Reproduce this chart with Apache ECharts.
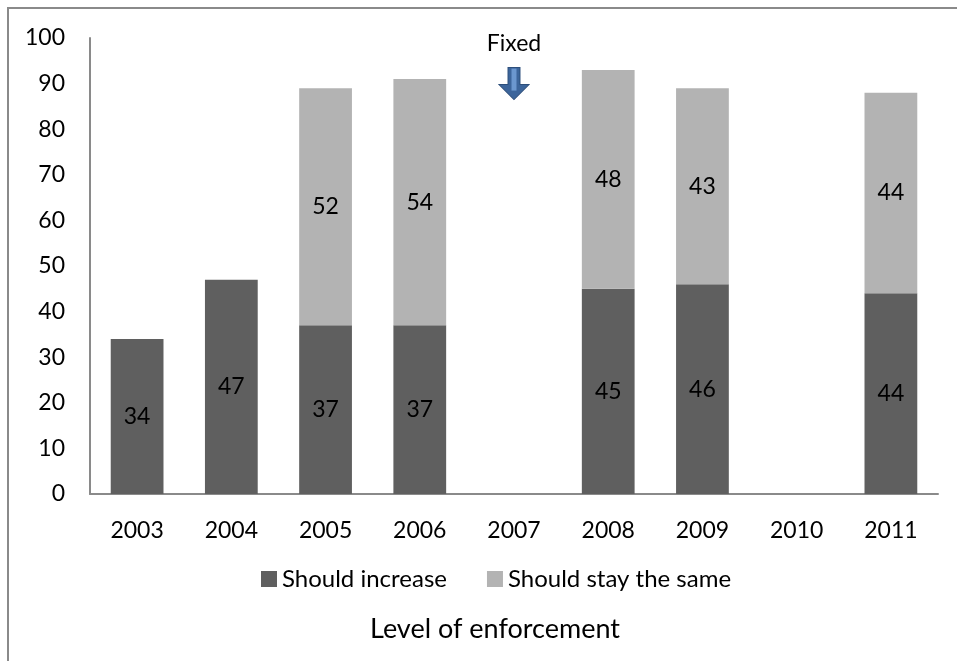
<!DOCTYPE html>
<html>
<head>
<meta charset="utf-8">
<script src="https://cdn.jsdelivr.net/npm/echarts@6/dist/echarts.min.js"></script>
<style>html,body{margin:0;padding:0;background:#fff}#c{width:957px;height:661px}</style>
</head>
<body>
<div id="c"></div>
<script>
const categories = ['2003','2004','2005','2006','2007','2008','2009','2010','2011'];
const shouldIncrease = [34, 47, 37, 37, null, 45, 46, null, 44];
const shouldStaySame = [null, null, 52, 54, null, 48, 43, null, 44];
const yTicks = [0,10,20,30,40,50,60,70,80,90,100];
const annotationCategory = '2007';
const annotationValue = 90;
const annotationText = 'Fixed';

const FONT = 'Lato';
const chart = echarts.init(document.getElementById('c'), null, {renderer:'canvas'});
const lbl = {show:true, position:'inside', color:'#000', fontFamily:FONT, fontSize:23,
  formatter: p => p.value == null ? '' : String(p.value)};
chart.setOption({
  animation:false,
  backgroundColor:'#fff',
  graphic:[{type:'rect', shape:{x:8,y:8,width:1200,height:900}, style:{fill:'none', stroke:'#8a8a8a', lineWidth:2}, silent:true}],
  grid:{left:90, right:19, top:38, bottom:167},
  legend:{left:256, top:562, itemWidth:16, itemHeight:16, itemGap:40, icon:'rect',
    textStyle:{fontFamily:FONT, fontSize:24, color:'#000', padding:[0,0,0,0]},
    data:['Should increase','Should stay the same']},
  xAxis:{type:'category', data:categories,
    axisLine:{lineStyle:{color:'#8a8a8a', width:2}}, axisTick:{show:false},
    axisLabel:{fontFamily:FONT, fontSize:23, color:'#000', margin:25},
    name:'Level of enforcement', nameLocation:'middle', nameGap:122,
    nameTextStyle:{fontFamily:FONT, fontSize:27, color:'#000', padding:[0,38,0,0]}},
  yAxis:{type:'value', min:0, max:100, interval:10,
    axisLine:{show:true, lineStyle:{color:'#8a8a8a', width:2}}, axisTick:{show:false},
    splitLine:{show:false},
    axisLabel:{fontFamily:FONT, fontSize:23, color:'#000', margin:25}},
  series:[
    {name:'Should increase', type:'bar', stack:'s', data:shouldIncrease, barCategoryGap:'44%',
     itemStyle:{color:'#5f5f5f'}, label:lbl},
    {name:'Should stay the same', type:'bar', stack:'s', data:shouldStaySame, barCategoryGap:'44%',
     itemStyle:{color:'#b3b3b3'}, label:lbl,
     markPoint:{
       data:[
         {coord:[annotationCategory, annotationValue], symbol:'path://M9,0 L21,0 L21,17 L30,17 L15,32 L0,17 L9,17 Z',
          symbolSize:[30,32], itemStyle:{color:'#3c659b', borderColor:'#2d4f7c', borderWidth:1},
          label:{show:true, formatter:annotationText, position:'top', distance:12, fontFamily:FONT, fontSize:23, color:'#000'}},
         {coord:[annotationCategory, annotationValue], symbol:'rect', symbolSize:[5,22], symbolOffset:[0,-4],
          itemStyle:{color:'#6b97cf'}, label:{show:false}}
       ]}
    }
  ]
});
</script>
</body>
</html>
